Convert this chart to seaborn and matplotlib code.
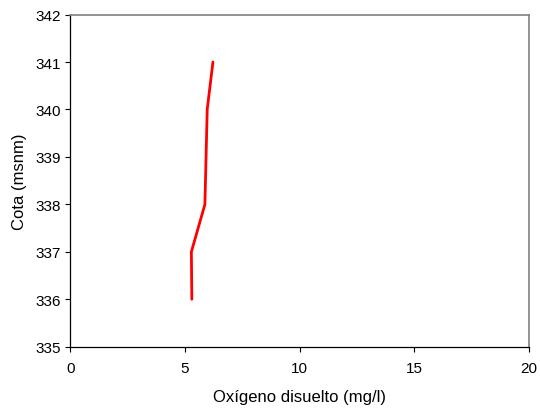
import pandas as pd
import numpy as np
import matplotlib
matplotlib.use("Agg")
import matplotlib.pyplot as plt
import seaborn as sns

# Perfil de oxigeno disuelto
oxigeno = [6.22, 5.97, 5.87, 5.28, 5.3]
cota = [341, 340, 338, 337, 336]

df = pd.DataFrame({"oxigeno": oxigeno, "cota": cota})

sns.set_style("white")
plt.rcParams['font.family'] = ['Liberation Sans', 'DejaVu Sans']
plt.rcParams['text.color'] = 'black'
plt.rcParams['axes.labelcolor'] = 'black'
plt.rcParams['xtick.color'] = 'black'
plt.rcParams['ytick.color'] = 'black'

fig = plt.figure(figsize=(5.4, 4.1), dpi=100)
ax = fig.add_axes([0.130, 0.152, 0.850, 0.810])

sns.lineplot(data=df, x="oxigeno", y="cota", sort=False, estimator=None,
             color="#ff0000", linewidth=2.0, ax=ax)

ax.set_xlim(0, 20)
ax.set_ylim(335, 342)
ax.set_xticks([0, 5, 10, 15, 20])
ax.set_yticks(np.arange(335, 343, 1))
ax.set_xlabel("Oxígeno disuelto (mg/l)", fontsize=12, labelpad=10)
ax.set_ylabel("Cota (msnm)", fontsize=12, labelpad=6)

ax.tick_params(axis="both", which="major", direction="out", length=3.5,
               width=0.8, color="black", labelsize=11, left=True, bottom=True)
ax.tick_params(axis="x", pad=7)
ax.tick_params(axis="y", pad=3.5)
for s in ["left", "bottom"]:
    ax.spines[s].set_color("black")
    ax.spines[s].set_linewidth(0.9)
for s in ["top", "right"]:
    ax.spines[s].set_color("#808080")
    ax.spines[s].set_linewidth(1.2)

fig.savefig("out.png", dpi=100)
